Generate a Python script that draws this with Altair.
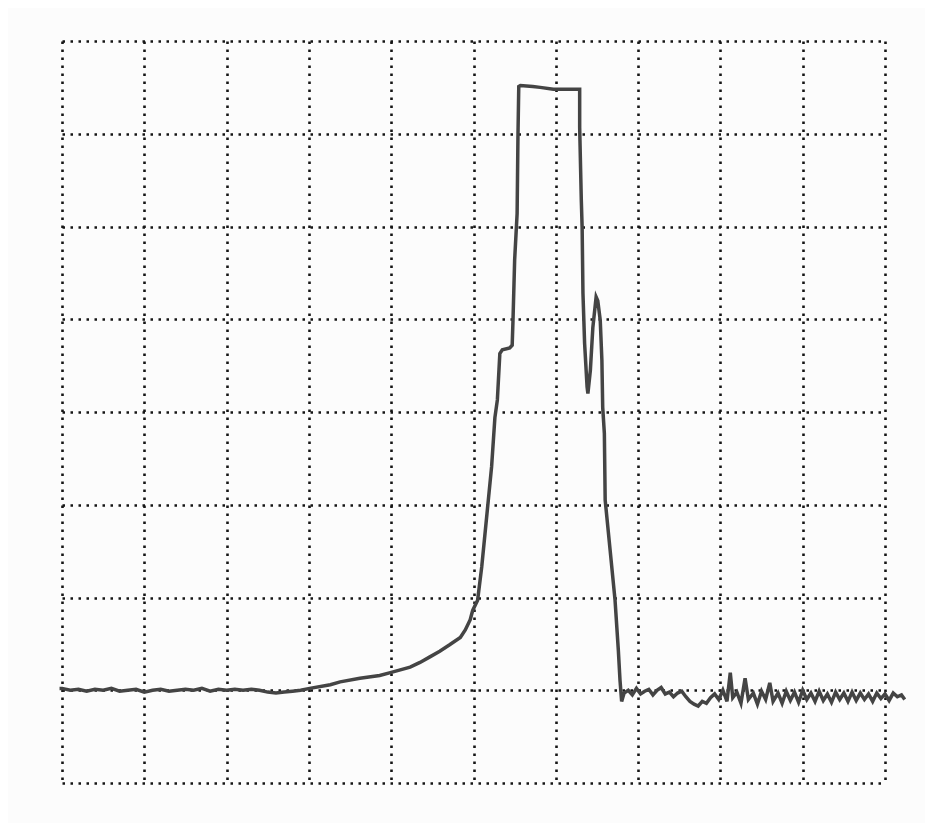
import altair as alt
import pandas as pd

# Trace values in screen divisions (x: 0..10 horizontal divisions, y: 0..8 vertical divisions)
trace_x = [
    -0.03, 0.0, 0.1, 0.2, 0.3, 0.4, 0.5, 0.6, 0.7, 0.8, 0.9, 1.0, 1.1, 1.2, 1.3, 1.4,
    1.5, 1.6, 1.7, 1.8, 1.9, 2.0, 2.1, 2.2, 2.3, 2.4, 2.5, 2.6, 2.7, 2.8, 2.9, 3.01,
    3.26, 3.38, 3.62, 3.86, 3.99, 4.23, 4.35, 4.47, 4.59, 4.71, 4.84, 4.90, 4.96, 4.99,
    5.05, 5.10, 5.14, 5.18, 5.22, 5.26, 5.29, 5.32, 5.35, 5.44, 5.47, 5.48, 5.50, 5.53,
    5.54, 5.55, 5.57, 5.72, 5.81, 5.97, 6.29, 6.29, 6.31, 6.32, 6.33, 6.35, 6.38, 6.39,
    6.42, 6.45, 6.49, 6.51, 6.54, 6.56, 6.57, 6.59, 6.60, 6.66, 6.72, 6.76, 6.78, 6.80,
    6.83, 6.88, 6.93, 6.98, 7.03, 7.08, 7.13, 7.18, 7.23, 7.28, 7.33, 7.38, 7.43, 7.48,
    7.53, 7.58, 7.63, 7.68, 7.73, 7.78, 7.83, 7.88, 7.93, 7.98, 8.03, 8.08, 8.12, 8.15,
    8.20, 8.25, 8.30, 8.34, 8.40, 8.45, 8.50, 8.55, 8.60, 8.64, 8.70, 8.75, 8.80, 8.85,
    8.90, 8.95, 9.00, 9.05, 9.10, 9.15, 9.20, 9.25, 9.30, 9.35, 9.40, 9.45, 9.50, 9.55,
    9.60, 9.65, 9.70, 9.75, 9.80, 9.85, 9.90, 9.95, 10.00, 10.05, 10.10, 10.15, 10.20, 10.24,
]
trace_y = [
    1.02, 1.02, 1.00, 1.01, 0.99, 1.01, 1.00, 1.02, 0.99, 1.00, 1.01, 0.98, 1.00, 1.01, 0.99, 1.00,
    1.01, 1.00, 1.02, 0.99, 1.01, 1.00, 1.01, 1.00, 1.01, 1.00, 0.98, 0.97, 0.98, 0.99, 1.00, 1.02,
    1.06, 1.09, 1.13, 1.16, 1.19, 1.25, 1.30, 1.36, 1.42, 1.49, 1.57, 1.65, 1.76, 1.86,
    1.97, 2.33, 2.69, 3.05, 3.41, 3.94, 4.13, 4.63, 4.67, 4.69, 4.72, 4.99, 5.64, 6.14,
    6.96, 7.51, 7.52, 7.51, 7.50, 7.48, 7.48, 7.07, 6.28, 5.99, 5.28, 4.74, 4.27, 4.20,
    4.45, 4.91, 5.24, 5.20, 4.99, 4.56, 4.05, 3.77, 3.05, 2.51, 1.97, 1.43, 1.11, 0.88,
    0.97, 1.00, 0.95, 1.02, 0.96, 0.99, 1.01, 0.95, 1.00, 1.03, 0.96, 0.98, 0.93, 0.97,
    0.99, 0.93, 0.88, 0.85, 0.83, 0.88, 0.86, 0.92, 0.96, 0.90, 1.00, 0.88, 1.19, 0.92,
    0.98, 0.86, 1.13, 0.90, 0.97, 0.85, 0.99, 0.90, 1.08, 0.88, 0.97, 0.86, 0.99, 0.89,
    0.98, 0.87, 1.00, 0.90, 0.97, 0.88, 0.99, 0.89, 0.96, 0.87, 0.98, 0.90, 0.97, 0.88,
    0.98, 0.89, 0.97, 0.90, 0.96, 0.88, 0.97, 0.91, 0.96, 0.89, 0.97, 0.93, 0.95, 0.90,
]

x_grid = list(range(11))
y_grid = list(range(9))

df = pd.DataFrame({"t": trace_x, "v": trace_y, "i": list(range(len(trace_x)))})

grid_axis = dict(
    grid=True, labels=False, ticks=False, domain=False, title=None,
    gridDash=[2.5, 5.5], gridColor="#151515", gridWidth=2.6, gridOpacity=1,
)

chart = (
    alt.Chart(df)
    .mark_line(color="#444444", strokeWidth=3.5, strokeJoin="miter", clip=False)
    .encode(
        x=alt.X("t:Q", scale=alt.Scale(domain=[0, 10], nice=False, zero=False),
                axis=alt.Axis(values=x_grid, **grid_axis)),
        y=alt.Y("v:Q", scale=alt.Scale(domain=[0, 8], nice=False, zero=False),
                axis=alt.Axis(values=y_grid, **grid_axis)),
        order="i:Q",
    )
    .properties(
        width=823, height=742,
        autosize=alt.AutoSizeParams(type="none"),
        padding={"left": 54, "top": 33, "right": 40, "bottom": 40},
        background="#fcfcfc",
    )
    .configure_view(strokeWidth=0)
)

chart.save("out.html", embed_options={"renderer": "svg", "actions": False})
